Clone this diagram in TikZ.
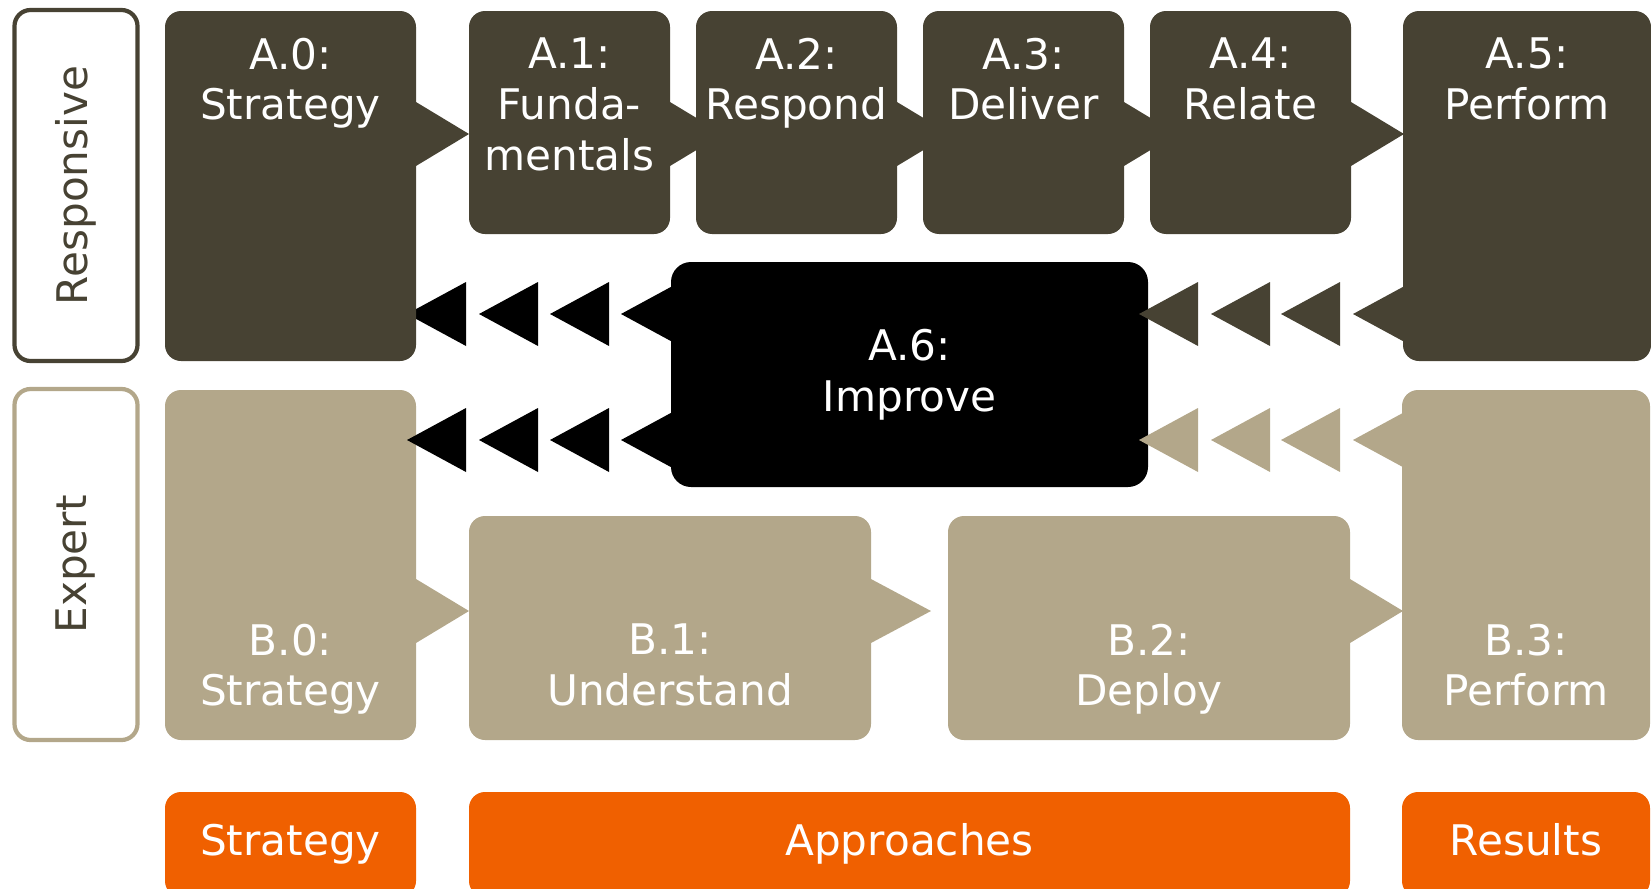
\documentclass[tikz,border=0pt]{standalone}
\usepackage{fontspec}
\setmainfont{DejaVu Sans}
\usepackage{tikz}
\usetikzlibrary{positioning}
\pgfdeclarelayer{background}
\pgfsetlayers{background,main}
\definecolor{respdark}{HTML}{474233}
\definecolor{experttan}{HTML}{B3A78A}
\definecolor{barorange}{HTML}{F06000}
\tikzset{
  every picture/.style = {
    font = \fontsize{12}{14.5}\selectfont,
    node distance = 0.26cm and 0.53cm,
  }
  ,
  blockbox/.style = {
    rectangle,
    rounded corners = 0.16cm,
    inner sep = 0pt,
    outer sep = 0pt,
    anchor = north west
  }
  , % boxes of the responsive row
  respbox/.style = {
    blockbox,
    fill = respdark
  }
  , % boxes of the expert row
  expbox/.style = {
    blockbox,
    fill = experttan
  }
  ,
  impbox/.style = {
    blockbox,
    fill = black,
    rounded corners = 0.2cm
  }
  , % strategy, approaches, results
  basebox/.style = {
    blockbox,
    fill = barorange,
    minimum height = 1.05cm
  }
  , % frames of the row names
  rowframe/.style = {
    rectangle,
    rounded corners = 0.16cm,
    draw = #1,
    text = respdark,
    line width = 1.2pt,
    rotate = 90,
    minimum width = 3.51cm,
    minimum height = 1.23cm
  }
  , % white texts in the boxes
  boxlabel/.style = {
    align = center,
    text = white,
    inner sep = 0pt
  }
}

\begin{document}
\begin{tikzpicture}
  \useasboundingbox (0,0) rectangle (16.51,-8.89);
  \clip (0,0) rectangle (16.51,-8.89);
  % row names
  \node [rowframe = respdark] (resp) at (0.76,-1.855) {Responsive};
  \node [rowframe = experttan] (expert) at (0.76,-5.645) {Expert};

  % responsive row
  \node [respbox, minimum width = 2.51cm, minimum height = 3.50cm] (a0) at (1.65,-0.11) {};
  \fill [respdark] ([yshift=-0.91cm]a0.north east) -- ++(0.53,-0.32) -- ++(-0.53,-0.32) -- cycle;
  \node [respbox, minimum width = 2.01cm, minimum height = 2.23cm,
         below right = 0cm and 0.53cm of a0.north east] (a1) {};
  \fill [respdark] ([yshift=-0.91cm]a1.north east) -- ++(0.53,-0.32) -- ++(-0.53,-0.32) -- cycle;
  \node [respbox, minimum width = 2.01cm, minimum height = 2.23cm, right = 0.26cm of a1] (a2) {};
  \fill [respdark] ([yshift=-0.91cm]a2.north east) -- ++(0.53,-0.32) -- ++(-0.53,-0.32) -- cycle;
  \node [respbox, minimum width = 2.01cm, minimum height = 2.23cm, right = 0.26cm of a2] (a3) {};
  \fill [respdark] ([yshift=-0.91cm]a3.north east) -- ++(0.53,-0.32) -- ++(-0.53,-0.32) -- cycle;
  \node [respbox, minimum width = 2.01cm, minimum height = 2.23cm, right = 0.26cm of a3] (a4) {};
  \fill [respdark] ([yshift=-0.91cm]a4.north east) -- ++(0.53,-0.32) -- ++(-0.53,-0.32) -- cycle;
  \node [respbox, minimum width = 2.48cm, minimum height = 3.50cm,
         below right = 0cm and 0.52cm of a4.north east] (a5) {};

  % improve
  \node [impbox, minimum width = 4.77cm, minimum height = 2.25cm] (a6) at (6.71,-2.62) {};

  % expert row
  \node [expbox, minimum width = 2.51cm, minimum height = 3.50cm] (b0) at (1.65,-3.90) {};
  \fill [experttan] ([yshift=1.61cm]b0.south east) -- ++(0.53,-0.32) -- ++(-0.53,-0.32) -- cycle;
  \node [expbox, minimum width = 4.02cm, minimum height = 2.24cm,
         above right = 0cm and 0.53cm of b0.south east] (b1) {};
  \fill [experttan] ([yshift=1.61cm]b1.south east) -- ++(0.60,-0.32) -- ++(-0.60,-0.32) -- cycle;
  \node [expbox, minimum width = 4.02cm, minimum height = 2.24cm, right = 0.77cm of b1] (b2) {};
  \fill [experttan] ([yshift=1.61cm]b2.south east) -- ++(0.53,-0.32) -- ++(-0.53,-0.32) -- cycle;
  \node [expbox, minimum width = 2.48cm, minimum height = 3.50cm,
         above right = 0cm and 0.52cm of b2.south east] (b3) {};

  % bottom bar
  \node [basebox, minimum width = 2.51cm] (strat) at (1.65,-7.92) {};
  \node [basebox, minimum width = 8.81cm, right = 0.53cm of strat] (appr) {};
  \node [basebox, minimum width = 2.48cm, right = 0.52cm of appr] (res) {};

  % feedback of improve
  \begin{pgfonlayer}{background}
    \foreach \dx in {-2.64,-1.92,-1.21,-0.50}
      \fill ([xshift=\dx cm, yshift=-0.52cm]a6.north west) -- ++(0.59,0.32) -- ++(0,-0.64) -- cycle;
  \end{pgfonlayer}
  \foreach \dx in {-2.64,-1.92,-1.21,-0.50}
    \fill ([xshift=\dx cm, yshift=-1.78cm]a6.north west) -- ++(0.59,0.32) -- ++(0,-0.64) -- cycle;
  \foreach \dx in {-0.09,0.63,1.33,2.05} {
    \fill [respdark] ([xshift=\dx cm, yshift=-0.52cm]a6.north east) -- ++(0.59,0.32) -- ++(0,-0.64) -- cycle;
    \fill [experttan] ([xshift=\dx cm, yshift=-1.78cm]a6.north east) -- ++(0.59,0.32) -- ++(0,-0.64) -- cycle;
  }

  % texts
  \node [boxlabel, below = 0.26cm of a0.north] (a0-t) {A.0:\\Strategy};
  \node [boxlabel, below = 0.26cm of a1.north] (a1-t) {A.1:\\Funda-\\mentals};
  \node [boxlabel, below = 0.26cm of a2.north] (a2-t) {A.2:\\Respond};
  \node [boxlabel, below = 0.26cm of a3.north] (a3-t) {A.3:\\Deliver};
  \node [boxlabel, below = 0.26cm of a4.north] (a4-t) {A.4:\\Relate};
  \node [boxlabel, below = 0.26cm of a5.north] (a5-t) {A.5:\\Perform};
  \node [boxlabel] (a6-t) at (a6.center) {A.6:\\Improve};
  \node [boxlabel, anchor = north] (b0-t) at ([yshift=1.17cm]b0.south) {B.0:\\Strategy};
  \node [boxlabel, anchor = north] (b1-t) at ([yshift=1.17cm]b1.south) {B.1:\\Understand};
  \node [boxlabel, anchor = north] (b2-t) at ([yshift=1.17cm]b2.south) {B.2:\\Deploy};
  \node [boxlabel, anchor = north] (b3-t) at ([yshift=1.17cm]b3.south) {B.3:\\Perform};
  \node [boxlabel, below = 0.31cm of strat.north] (strat-t) {Strategy};
  \node [boxlabel, below = 0.31cm of appr.north] (appr-t) {Approaches};
  \node [boxlabel, below = 0.31cm of res.north] (res-t) {Results};
\end{tikzpicture}
\end{document}
